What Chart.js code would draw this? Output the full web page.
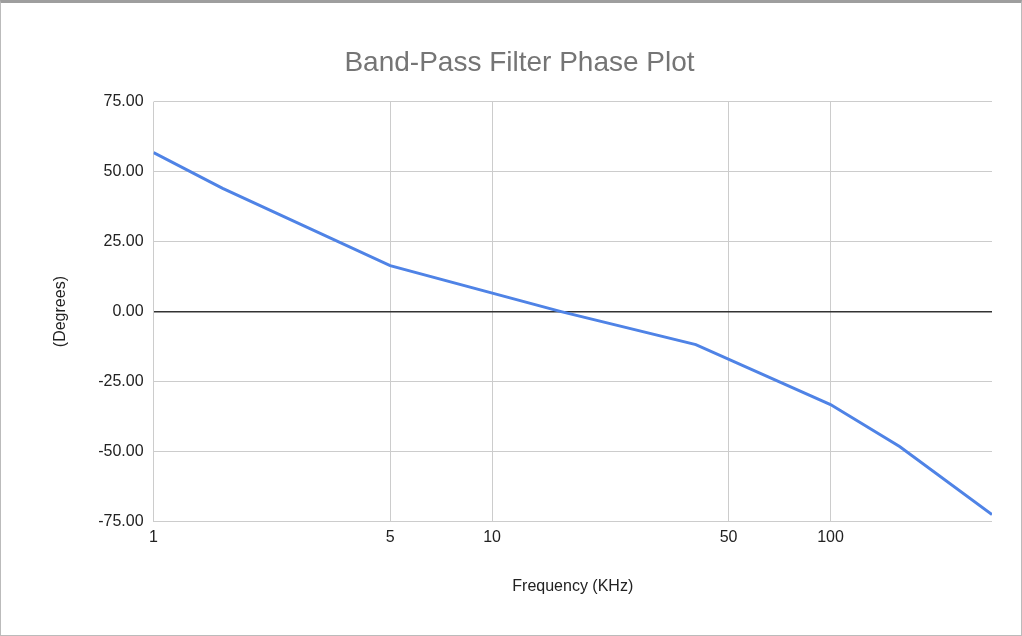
<!DOCTYPE html>
<html><head><meta charset="utf-8">
<script src="https://cdn.jsdelivr.net/npm/chart.js@4"></script>
<style>html,body{margin:0;padding:0;background:#fff;}
#wrap{position:absolute;left:0;top:0;width:1020px;height:632px;border-top:3px solid #9e9e9e;border-left:1px solid #bbb;border-right:1px solid #bbb;border-bottom:1px solid #bbb;}
</style></head><body>
<div id="wrap"><canvas id="c" width="1020" height="632"></canvas></div>
<script>
const freqs = [1, 1.6, 5, 16, 40, 100, 160, 300];
const phase = [56.8, 44, 16.4, 0, -11.8, -33.2, -48.2, -72.5];
const xTicks = [1, 5, 10, 50, 100];
const yTicks = [-75, -50, -25, 0, 25, 50, 75];
new Chart(document.getElementById('c'), {
  type: 'line',
  data: { datasets: [{ data: freqs.map((f,i)=>({x:f,y:phase[i]})), borderColor:'#4f83e6', borderWidth:3, pointRadius:0, tension:0 }] },
  options: {
    responsive:false, animation:false,
    layout:{padding:{left:46,right:29,top:21,bottom:35}},
    plugins:{legend:{display:false},
      title:{display:true,text:'Band-Pass Filter Phase Plot',color:'#757575',font:{family:'Liberation Sans, Arial',size:28,weight:'normal'},padding:{top:22,bottom:22}}},
    scales:{
      x:{type:'logarithmic',min:1,max:300,
        afterBuildTicks:a=>{a.ticks=xTicks.map(v=>({value:v}));},
        ticks:{callback:v=>String(v),color:'#222',font:{family:'Liberation Sans, Arial',size:16},maxRotation:0,padding:6},
        grid:{color:'#ccc',drawTicks:false},border:{display:false},
        title:{display:true,text:'Frequency (KHz)',color:'#222',font:{family:'Liberation Sans, Arial',size:16},padding:{top:24}}},
      y:{min:-75,max:75,
        afterBuildTicks:a=>{a.ticks=yTicks.map(v=>({value:v}));},
        ticks:{callback:v=>v.toFixed(2),color:'#222',font:{family:'Liberation Sans, Arial',size:16},padding:10},
        grid:{color:c=>c.tick&&c.tick.value===0?'#333':'#ccc',lineWidth:c=>c.tick&&c.tick.value===0?1.5:1,drawTicks:false},border:{display:false},
        title:{display:true,text:'(Degrees)',color:'#222',font:{family:'Liberation Sans, Arial',size:16},padding:{bottom:18}}}
    }
  }
});
</script></body></html>
